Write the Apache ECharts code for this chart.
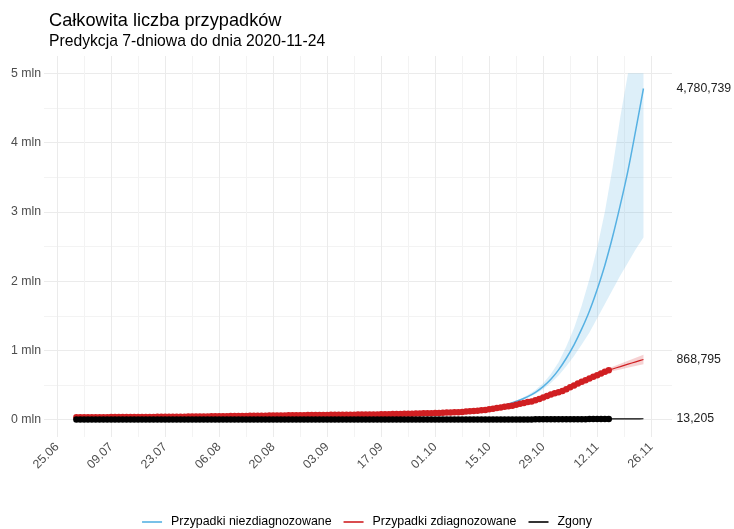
<!DOCTYPE html>
<html>
<head>
<meta charset="utf-8">
<script src="https://cdn.jsdelivr.net/npm/echarts@6.0.0/dist/echarts.min.js"></script>
<style>
  html, body { margin: 0; padding: 0; background: #ffffff; }
  #chart { width: 734px; height: 529px; }
</style>
</head>
<body>
<div id="chart"></div>
<script>
// ---- Texts -------------------------------------------------------------
const chartTitle = 'Całkowita liczba przypadków';
const chartSubtitle = 'Predykcja 7-dniowa do dnia 2020-11-24';
const nameUndiagnosed = 'Przypadki niezdiagnozowane';
const nameDiagnosed = 'Przypadki zdiagnozowane';
const nameDeaths = 'Zgony';

// ---- Axes --------------------------------------------------------------
// x is counted in days from axisOrigin; labels every 14 days, grid every 7
const axisOrigin = '2020-06-25';
const xLimits = [-3.4, 159.4];
const yLimits = [-250000, 5250000];

// ---- Observed daily totals, 2020-06-30 .. 2020-11-15 -------------------
const observedStart = '2020-06-30';
const diagnosed = [
  34393,
  34775, 35146, 35405, 35719, 35950, 36155, 36412, 36689, 36951, 37216,
  37521, 37891, 38190, 38457, 38721, 39054, 39407, 39746, 40104, 40383,
  40782, 41162, 41580, 42038, 42622, 43026, 43402, 43904, 44416, 45031, 45688,
  46346, 46894, 47469, 48149, 48789, 49515, 50324, 51167, 51791, 52410,
  53023, 53676, 54487, 55319, 56090, 56863, 57279, 57876, 58611, 59422,
  60281, 61181, 61762, 62310, 62956, 63602, 64689, 65480, 66213, 66830, 67372,
  67922, 68510, 69129, 69706, 70143, 70542, 70870, 71283, 71955, 72908,
  73604, 74152, 74625, 75153, 75766, 76519, 77259, 78285, 79345, 80699,
  81673, 82809, 83964, 84927, 86521, 87963, 89962, 91514, 92459, 93481,
  95273, 96991, 99497, 102080, 104104, 105948, 107319, 111599, 116338, 121638,
  125816, 130210, 135278, 141194, 149903, 157064, 167230, 176520, 185043, 192539,
  202579, 214686, 228318, 241946, 253688, 263929, 280229, 299049, 319205, 340834, 362731,
  379902, 395480, 414844, 439536, 466679, 493765, 521640, 546425, 568138, 593359,
  618843, 641526, 667592, 693163, 715017
];
const deaths = [
  1463,
  1477, 1492, 1502, 1514, 1521, 1524, 1536, 1551, 1560, 1571,
  1576, 1594, 1599, 1605, 1617, 1619, 1627, 1642, 1651, 1655,
  1664, 1676, 1682, 1685, 1693, 1694, 1697, 1709, 1719, 1721, 1731,
  1732, 1739, 1744, 1756, 1774, 1787, 1799, 1807, 1809, 1816,
  1830, 1844, 1851, 1869, 1877, 1886, 1889, 1908, 1916, 1924,
  1938, 1946, 1956, 1964, 1978, 1989, 2010, 2020, 2029, 2039, 2048,
  2058, 2069, 2085, 2101, 2112, 2118, 2127, 2148, 2159, 2180,
  2194, 2208, 2218, 2228, 2248, 2262, 2276, 2287, 2301, 2315,
  2325, 2348, 2369, 2391, 2413, 2441, 2451, 2457, 2488, 2534,
  2570, 2602, 2630, 2649, 2659, 2683, 2725, 2760, 2812, 2860,
  2891, 2921, 3036, 3159, 3235, 3308, 3382, 3437, 3470, 3614,
  3757, 3882, 4019, 4172, 4241, 4323, 4483, 4615, 4851, 5149, 5351,
  5478, 5571, 5783, 6150, 6475, 6842, 7287, 7636, 7928, 8317,
  8805, 9220, 9699, 10045, 10244
];

// ---- 7-day forecast, 2020-11-15 .. 2020-11-24 --------------------------
const forecastStart = '2020-11-15';
const diagnosedForecast = [715017, 732000, 749000, 766000, 784000, 801000, 818000, 835000, 852000, 868795];
const deathsForecast = [10244, 10600, 10950, 11300, 11650, 12000, 12300, 12600, 12900, 13205];

// ---- Estimated total (undiagnosed) cases with interval -----------------
const estimateDates = [
  '2020-06-30', '2020-07-07', '2020-07-14', '2020-07-21', '2020-07-28', '2020-08-04', '2020-08-11',
  '2020-08-18', '2020-08-25', '2020-09-01', '2020-09-08', '2020-09-15', '2020-09-22', '2020-09-29',
  '2020-10-03', '2020-10-05', '2020-10-07', '2020-10-09', '2020-10-11', '2020-10-13', '2020-10-15',
  '2020-10-17', '2020-10-19', '2020-10-21', '2020-10-23', '2020-10-25', '2020-10-27', '2020-10-29',
  '2020-10-31', '2020-11-02', '2020-11-04', '2020-11-06', '2020-11-08', '2020-11-10', '2020-11-12',
  '2020-11-14', '2020-11-16', '2020-11-18', '2020-11-20', '2020-11-22', '2020-11-24'
];
const undiagnosed = [
  35000, 37000, 39000, 41500, 44500, 49000, 54000, 59000, 64000, 69000, 72500, 77000, 84000, 93500,
  100000, 106000, 113000, 121000, 131000, 142000, 157000, 179000, 210000, 244000, 284000, 333000,
  395000, 477000, 583000, 719000, 887000, 1080000, 1310000, 1570000, 1880000, 2230000, 2640000,
  3100000, 3600000, 4180000, 4780739
];
const undiagnosedLow = [
  34500, 36400, 38400, 40900, 43800, 48300, 53200, 58100, 63000, 68000, 71400, 75800, 82700, 92000,
  98500, 104400, 111300, 119000, 129000, 139500, 154000, 175000, 205000, 237000, 273000, 315000,
  371000, 440000, 530000, 636000, 772000, 920000, 1087000, 1260000, 1466000, 1670000, 1874000,
  2080000, 2270000, 2460000, 2630000
];
const undiagnosedHigh = [
  35500, 37600, 39600, 42100, 45200, 49700, 54800, 59900, 65000, 70000, 73600, 78200, 85300, 95000,
  101500, 107600, 114700, 123000, 133000, 144500, 160000, 183000, 215000, 251000, 298000, 355000,
  427000, 525000, 659000, 830000, 1056000, 1320000, 1650000, 2030000, 2480000, 3000000, 3640000,
  4370000, 5000000, 5000000, 5000000
];

// ---- Interval around the diagnosed-cases fit ---------------------------
const diagnosedBandDates = [
  '2020-10-03', '2020-10-07', '2020-10-11', '2020-10-15', '2020-10-19', '2020-10-23', '2020-10-27',
  '2020-10-31', '2020-11-04', '2020-11-08', '2020-11-12', '2020-11-15', '2020-11-18', '2020-11-21',
  '2020-11-24'
];
const diagnosedLow = [
  95500, 102300, 119800, 141900, 176000, 217300, 267200, 346700, 420500, 524400, 615500, 687000,
  726000, 763000, 798800
];
const diagnosedHigh = [
  103500, 112300, 131800, 157900, 194000, 239300, 293200, 378700, 458500, 568400, 667500, 743000,
  806000, 873000, 938800
];

// ---- Colours -------------------------------------------------------------
const colBlue = '#56B1E3';
const colRed = '#D01F22';
const colBlack = '#000000';
const font = "'Liberation Sans', Arial, sans-serif";

// ---- Helpers -------------------------------------------------------------
const DAY = 86400000;
const originMs = Date.parse(axisOrigin + 'T00:00:00Z');
const dayOf = s => Math.round((Date.parse(s + 'T00:00:00Z') - originMs) / DAY);
const seq = (start, n) => Array.from({ length: n }, (_, i) => dayOf(start) + i);
const pairs = (xs, ys) => xs.map((x, i) => [x, ys[i]]);
const dateLabel = d => {
  const t = new Date(originMs + d * DAY);
  const dd = String(t.getUTCDate()).padStart(2, '0');
  const mm = String(t.getUTCMonth() + 1).padStart(2, '0');
  return dd + '.' + mm;
};
const thousands = v => Math.round(v).toLocaleString('en-US');

const obsX = seq(observedStart, diagnosed.length);
const fcX = seq(forecastStart, diagnosedForecast.length);
const estX = estimateDates.map(dayOf);
const bandX = diagnosedBandDates.map(dayOf);

const endLabel = {
  show: true,
  distance: 33,
  color: '#222',
  fontSize: 12.3,
  fontFamily: font,
  formatter: p => thousands(p.value[1])
};

// Ribbon between a lower and an upper curve, drawn as one polygon in data coordinates
const ribbon = (name, xs, low, high, color) => ({
  name: name,
  type: 'custom',
  silent: true,
  clip: true,
  z: 1,
  data: xs.map((x, i) => [x, low[i], high[i]]),
  encode: { x: 0, y: [1, 2] },
  renderItem: (params, api) => {
    if (params.dataIndex !== 0) return null;
    const upper = xs.map((x, i) => api.coord([x, high[i]]));
    const lower = xs.map((x, i) => api.coord([x, low[i]])).reverse();
    return {
      type: 'polygon',
      shape: { points: upper.concat(lower) },
      style: { fill: color, stroke: null }
    };
  }
});

const chart = echarts.init(document.getElementById('chart'), null, { renderer: 'canvas' });

chart.setOption({
  animation: false,
  backgroundColor: '#ffffff',
  title: [
    { text: chartTitle, left: 44, top: 7, textStyle: { fontFamily: font, fontSize: 18.2, fontWeight: 'normal', color: '#000' } },
    { text: chartSubtitle, left: 44, top: 29, textStyle: { fontFamily: font, fontSize: 15.7, fontWeight: 'normal', color: '#000' } }
  ],
  grid: { left: 44, right: 62, top: 56, bottom: 92, containLabel: false },
  legend: {
    data: [nameUndiagnosed, nameDiagnosed, nameDeaths],
    top: 511,
    left: 'center',
    icon: 'rect',
    itemWidth: 20,
    itemHeight: 1.6,
    itemGap: 12,
    textStyle: { fontFamily: font, fontSize: 12.4, color: '#000', padding: [0, 0, 0, 4] }
  },
  xAxis: {
    type: 'value',
    min: xLimits[0],
    max: xLimits[1],
    minInterval: 7,
    maxInterval: 7,
    axisLine: { show: false },
    axisTick: { show: false },
    splitLine: {
      show: true,
      showMinLine: false,
      showMaxLine: false,
      lineStyle: { color: ['#ebebeb', '#f3f3f3'], width: 1 }
    },
    axisLabel: {
      rotate: 45,
      margin: 8,
      showMinLabel: false,
      showMaxLabel: false,
      color: '#4d4d4d',
      fontFamily: font,
      fontSize: 12.3,
      formatter: v => (Math.abs(v % 14) < 1e-6 ? dateLabel(v) : '')
    }
  },
  yAxis: {
    type: 'value',
    min: yLimits[0],
    max: yLimits[1],
    minInterval: 500000,
    maxInterval: 500000,
    axisLine: { show: false },
    axisTick: { show: false },
    splitLine: {
      show: true,
      showMinLine: false,
      showMaxLine: false,
      lineStyle: { color: ['#ebebeb', '#f3f3f3'], width: 1 }
    },
    axisLabel: {
      margin: 3,
      showMinLabel: false,
      showMaxLabel: false,
      color: '#4d4d4d',
      fontFamily: font,
      fontSize: 12.3,
      formatter: v => (Math.abs(v % 1000000) < 1e-6 ? (v / 1000000) + ' mln' : '')
    }
  },
  series: [
    ribbon('pasmo-niezdiag', estX, undiagnosedLow, undiagnosedHigh, 'rgba(86,177,227,0.2)'),
    ribbon('pasmo-zdiag', bandX, diagnosedLow, diagnosedHigh, 'rgba(208,31,34,0.2)'),
    {
      name: nameUndiagnosed, type: 'line', data: pairs(estX, undiagnosed),
      smooth: 0.3, symbol: 'none', itemStyle: { color: colBlue },
      lineStyle: { color: colBlue, width: 1.5 }, endLabel: endLabel, z: 3
    },
    {
      name: nameDiagnosed, type: 'line', data: pairs(obsX, diagnosed),
      symbol: 'circle', symbolSize: 6.5, showSymbol: true, showAllSymbol: true,
      itemStyle: { color: colRed, borderWidth: 0 },
      lineStyle: { color: colRed, width: 1.2 }, z: 4
    },
    {
      name: nameDiagnosed, type: 'line', data: pairs(fcX, diagnosedForecast),
      symbol: 'none', itemStyle: { color: colRed },
      lineStyle: { color: colRed, width: 1.2 }, endLabel: endLabel, z: 4
    },
    {
      name: nameDeaths, type: 'line', data: pairs(obsX, deaths),
      symbol: 'circle', symbolSize: 6.5, showSymbol: true, showAllSymbol: true,
      itemStyle: { color: colBlack, borderWidth: 0 },
      lineStyle: { color: colBlack, width: 1.2 }, z: 5
    },
    {
      name: nameDeaths, type: 'line', data: pairs(fcX, deathsForecast),
      symbol: 'none', itemStyle: { color: colBlack },
      lineStyle: { color: colBlack, width: 1.2 }, endLabel: endLabel, z: 5
    }
  ]
});
</script>
</body>
</html>
